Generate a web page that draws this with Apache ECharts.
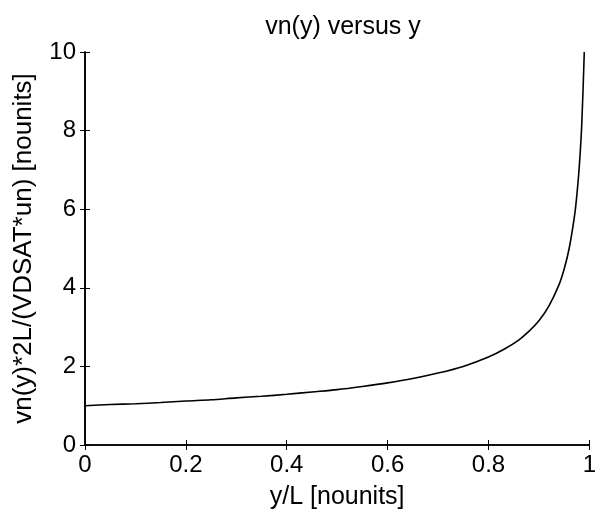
<!DOCTYPE html>
<html><head><meta charset="utf-8">
<script src="https://cdn.jsdelivr.net/npm/echarts@6/dist/echarts.min.js"></script>
<style>html,body{margin:0;padding:0;background:#fff}#c{width:599px;height:520px}</style>
</head><body><div id="c"></div>
<script>
const yOverL = [0, 0.05, 0.1, 0.15, 0.2, 0.25, 0.3, 0.35, 0.4, 0.45, 0.5, 0.55, 0.6, 0.65, 0.7, 0.75, 0.8, 0.83, 0.86, 0.88, 0.9, 0.92, 0.94, 0.95, 0.96, 0.97, 0.975, 0.98, 0.985, 0.99];
const vnNorm = [1.0, 1.03, 1.05, 1.08, 1.12, 1.15, 1.2, 1.24, 1.29, 1.35, 1.41, 1.49, 1.58, 1.69, 1.83, 2.0, 2.24, 2.43, 2.67, 2.89, 3.16, 3.54, 4.08, 4.47, 5.0, 5.77, 6.32, 7.07, 8.16, 10.0];
const titleText = 'vn(y) versus y';
const xTitle = 'y/L [nounits]';
const yTitle = 'vn(y)*2L/(VDSAT*un) [nounits]';

const font = 'Liberation Sans, Arial, Helvetica, sans-serif';
const chart = echarts.init(document.getElementById('c'), null, {renderer: 'canvas'});
const axLine = {show: true, lineStyle: {color: '#000', width: 1.6}};
const tick = {show: true, inside: true, length: 5, lineStyle: {color: '#000', width: 1}};
chart.setOption({
  animation: false,
  backgroundColor: '#fff',
  title: {text: titleText, left: 338, top: 10, textAlign: 'center',
    textStyle: {fontFamily: font, fontWeight: 'normal', fontSize: 25, color: '#000'}},
  grid: {left: 85, right: 6, top: 52, bottom: 75, containLabel: false},
  xAxis: [
    {type: 'value', min: 0, max: 1, interval: 0.2, position: 'bottom',
     name: xTitle, nameLocation: 'middle', nameGap: 40,
     nameTextStyle: {fontFamily: font, fontSize: 25, color: '#000'},
     axisLine: axLine, axisTick: tick, splitLine: {show: false},
     axisLabel: {fontFamily: font, fontSize: 24, color: '#000', margin: 8,
       formatter: v => String(+v.toFixed(1))}},
    {type: 'value', min: 0, max: 1, interval: 0.2, position: 'top',
     axisLine: axLine, axisTick: tick, axisLabel: {show: false}, splitLine: {show: false}}
  ],
  yAxis: [
    {type: 'value', min: 0, max: 10, interval: 2, position: 'left',
     name: yTitle, nameLocation: 'middle', nameGap: 48,
     nameTextStyle: {fontFamily: font, fontSize: 26, color: '#000'},
     axisLine: axLine, axisTick: tick, splitLine: {show: false},
     axisLabel: {fontFamily: font, fontSize: 24, color: '#000', margin: 9}},
    {type: 'value', min: 0, max: 10, interval: 2, position: 'right',
     axisLine: axLine, axisTick: tick, axisLabel: {show: false}, splitLine: {show: false}}
  ],
  series: [{
    type: 'line', data: yOverL.map((x, i) => [x, vnNorm[i]]),
    smooth: 0.3, showSymbol: false, symbol: 'none',
    lineStyle: {color: '#000', width: 1.6}
  }]
});
</script></body></html>
